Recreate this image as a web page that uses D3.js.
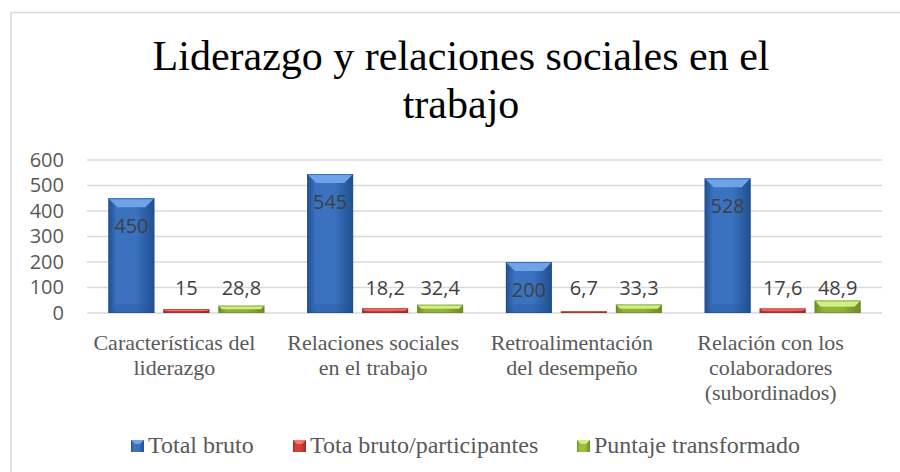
<!DOCTYPE html>
<html>
<head>
<meta charset="utf-8">
<script src="https://cdn.jsdelivr.net/npm/d3@7"></script>
<style>
  html, body { margin: 0; padding: 0; background: #fff; }
  svg { display: block; }
</style>
</head>
<body>
<div id="chart"></div>
<script>
// Chart size
const width = 900;
const height = 472;

// Data
const categories = [
    ["Características del", "liderazgo"],
    ["Relaciones sociales", "en el trabajo"],
    ["Retroalimentación", "del desempeño"],
    ["Relación con los", "colaboradores", "(subordinados)"]
];
const seriesNames = ["Total bruto", "Tota bruto/participantes", "Puntaje transformado"];
const totalBruto = [450, 545, 200, 528];
const brutoParticipantes = [15, 18.2, 6.7, 17.6];
const puntajeTransformado = [28.8, 32.4, 33.3, 48.9];
const yTicks = [0, 100, 200, 300, 400, 500, 600];

const seriesValues = [totalBruto, brutoParticipantes, puntajeTransformado];

// Style constants
const STYLES = {
    grid: "#d9d9d9",
    axisText: "#595959",
    labelText: "#404040",
    series: [
        { main: "#3a72c0", light: "#6ea3e8", dark: "#1f4f8f" },
        { main: "#d6403c", light: "#f27a76", dark: "#9e2a27" },
        { main: "#9bc03f", light: "#d2ef84", dark: "#6c8a26" }
    ]
};

const svg = d3.select("#chart")
    .append("svg")
    .attr("width", width)
    .attr("height", height);

const defs = svg.append("defs");
STYLES.series.forEach((c, i) => {
    const grad = defs.append("linearGradient")
        .attr("id", "grad" + i)
        .attr("x1", 0).attr("x2", 1).attr("y1", 0).attr("y2", 0);
    grad.append("stop").attr("offset", "0%").attr("stop-color", c.dark);
    grad.append("stop").attr("offset", "18%").attr("stop-color", c.main);
    grad.append("stop").attr("offset", "60%").attr("stop-color", c.main);
    grad.append("stop").attr("offset", "100%").attr("stop-color", c.dark);
});

// Chart border
svg.append("rect")
    .attr("x", 11).attr("y", 12.5)
    .attr("width", 900).attr("height", 480)
    .attr("fill", "none")
    .attr("stroke", "#d9d9d9")
    .attr("stroke-width", 1.5);

// Title
const title = svg.append("text")
    .attr("text-anchor", "middle")
    .style("font-family", "'Liberation Serif', 'Times New Roman', serif")
    .style("font-size", "42px")
    .attr("fill", "#000");
title.append("tspan").attr("x", 461).attr("y", 70).text("Liderazgo y relaciones sociales en el");
title.append("tspan").attr("x", 461).attr("y", 118).text("trabajo");

// Scales
const x0 = d3.scaleBand()
    .domain(d3.range(categories.length))
    .range([87, 882]);

const groupWidth = 156;
const x1 = d3.scaleBand()
    .domain(d3.range(seriesNames.length))
    .range([0, groupWidth])
    .paddingInner(9 / 55);

const y = d3.scaleLinear()
    .domain([0, 600])
    .range([313, 160]);

// Gridlines
svg.append("g")
    .selectAll("line")
    .data(yTicks)
    .enter()
    .append("line")
    .attr("x1", 87)
    .attr("x2", 882)
    .attr("y1", d => y(d))
    .attr("y2", d => y(d))
    .attr("stroke", STYLES.grid)
    .attr("stroke-width", 1.5);

// Y axis labels
const yAxis = svg.append("g")
    .attr("transform", "translate(64,0)")
    .call(d3.axisLeft(y).tickValues(yTicks).tickSize(0).tickPadding(0));
yAxis.select(".domain").remove();
yAxis.selectAll("text")
    .style("font-family", "'Open Sans', 'Liberation Sans', sans-serif")
    .style("font-size", "20px")
    .attr("fill", STYLES.axisText);

// Bars
const offset = (x0.bandwidth() - groupWidth) / 2;
seriesValues.forEach((vals, s) => {
    const c = STYLES.series[s];
    vals.forEach((v, i) => {
        const bx = x0(i) + offset + x1(s);
        const bw = x1.bandwidth();
        const by = y(v);
        const bh = y(0) - by;
        const b = Math.min(9, bh / 2);
        const g = svg.append("g");
        g.append("rect")
            .attr("x", bx).attr("y", by)
            .attr("width", bw).attr("height", bh)
            .attr("fill", `url(#grad${s})`);
        // top bevel
        g.append("path")
            .attr("d", `M${bx},${by}L${bx + bw},${by}L${bx + bw - b},${by + b}L${bx + b},${by + b}Z`)
            .attr("fill", c.light);
        // bottom bevel
        g.append("path")
            .attr("d", `M${bx},${by + bh}L${bx + bw},${by + bh}L${bx + bw - b},${by + bh - b}L${bx + b},${by + bh - b}Z`)
            .attr("fill", c.dark)
            .attr("opacity", 0.25);
        g.append("rect")
            .attr("x", bx + 0.5).attr("y", by + 0.5)
            .attr("width", bw - 1).attr("height", Math.max(0, bh - 1))
            .attr("fill", "none")
            .attr("stroke", c.dark)
            .attr("stroke-opacity", 0.6)
            .attr("stroke-width", 1);

        // data label
        const ly = s === 0 ? by + 28 : Math.min(by - 13, y(0) - 25);
        svg.append("text")
            .attr("x", bx + bw / 2)
            .attr("y", ly)
            .attr("dy", "0.35em")
            .attr("text-anchor", "middle")
            .style("font-family", "'Open Sans', 'Liberation Sans', sans-serif")
            .style("font-size", "20px")
            .attr("fill", STYLES.labelText)
            .text(String(v).replace(".", ","));
    });
});

// Category labels
categories.forEach((lines, i) => {
    const t = svg.append("text")
        .attr("text-anchor", "middle")
        .style("font-family", "'Liberation Serif', 'Times New Roman', serif")
        .style("font-size", "22px")
        .attr("fill", STYLES.axisText);
    lines.forEach((line, k) => {
        t.append("tspan")
            .attr("x", x0(i) + x0.bandwidth() / 2 - 12)
            .attr("y", 342 + k * 25)
            .attr("dy", "0.35em")
            .text(line);
    });
});

// Legend
const legendX = [131, 293, 577];
seriesNames.forEach((name, s) => {
    const c = STYLES.series[s];
    const lx = legendX[s];
    svg.append("rect")
        .attr("x", lx).attr("y", 440)
        .attr("width", 13).attr("height", 12)
        .attr("fill", `url(#grad${s})`);
    svg.append("path")
        .attr("d", `M${lx},440L${lx + 13},440L${lx + 9},444L${lx + 4},444Z`)
        .attr("fill", c.light);
    svg.append("text")
        .attr("x", lx + 17)
        .attr("y", 445)
        .attr("dy", "0.35em")
        .style("font-family", "'Liberation Serif', 'Times New Roman', serif")
        .style("font-size", "24px")
        .attr("fill", STYLES.axisText)
        .text(name);
});
</script>
</body>
</html>
